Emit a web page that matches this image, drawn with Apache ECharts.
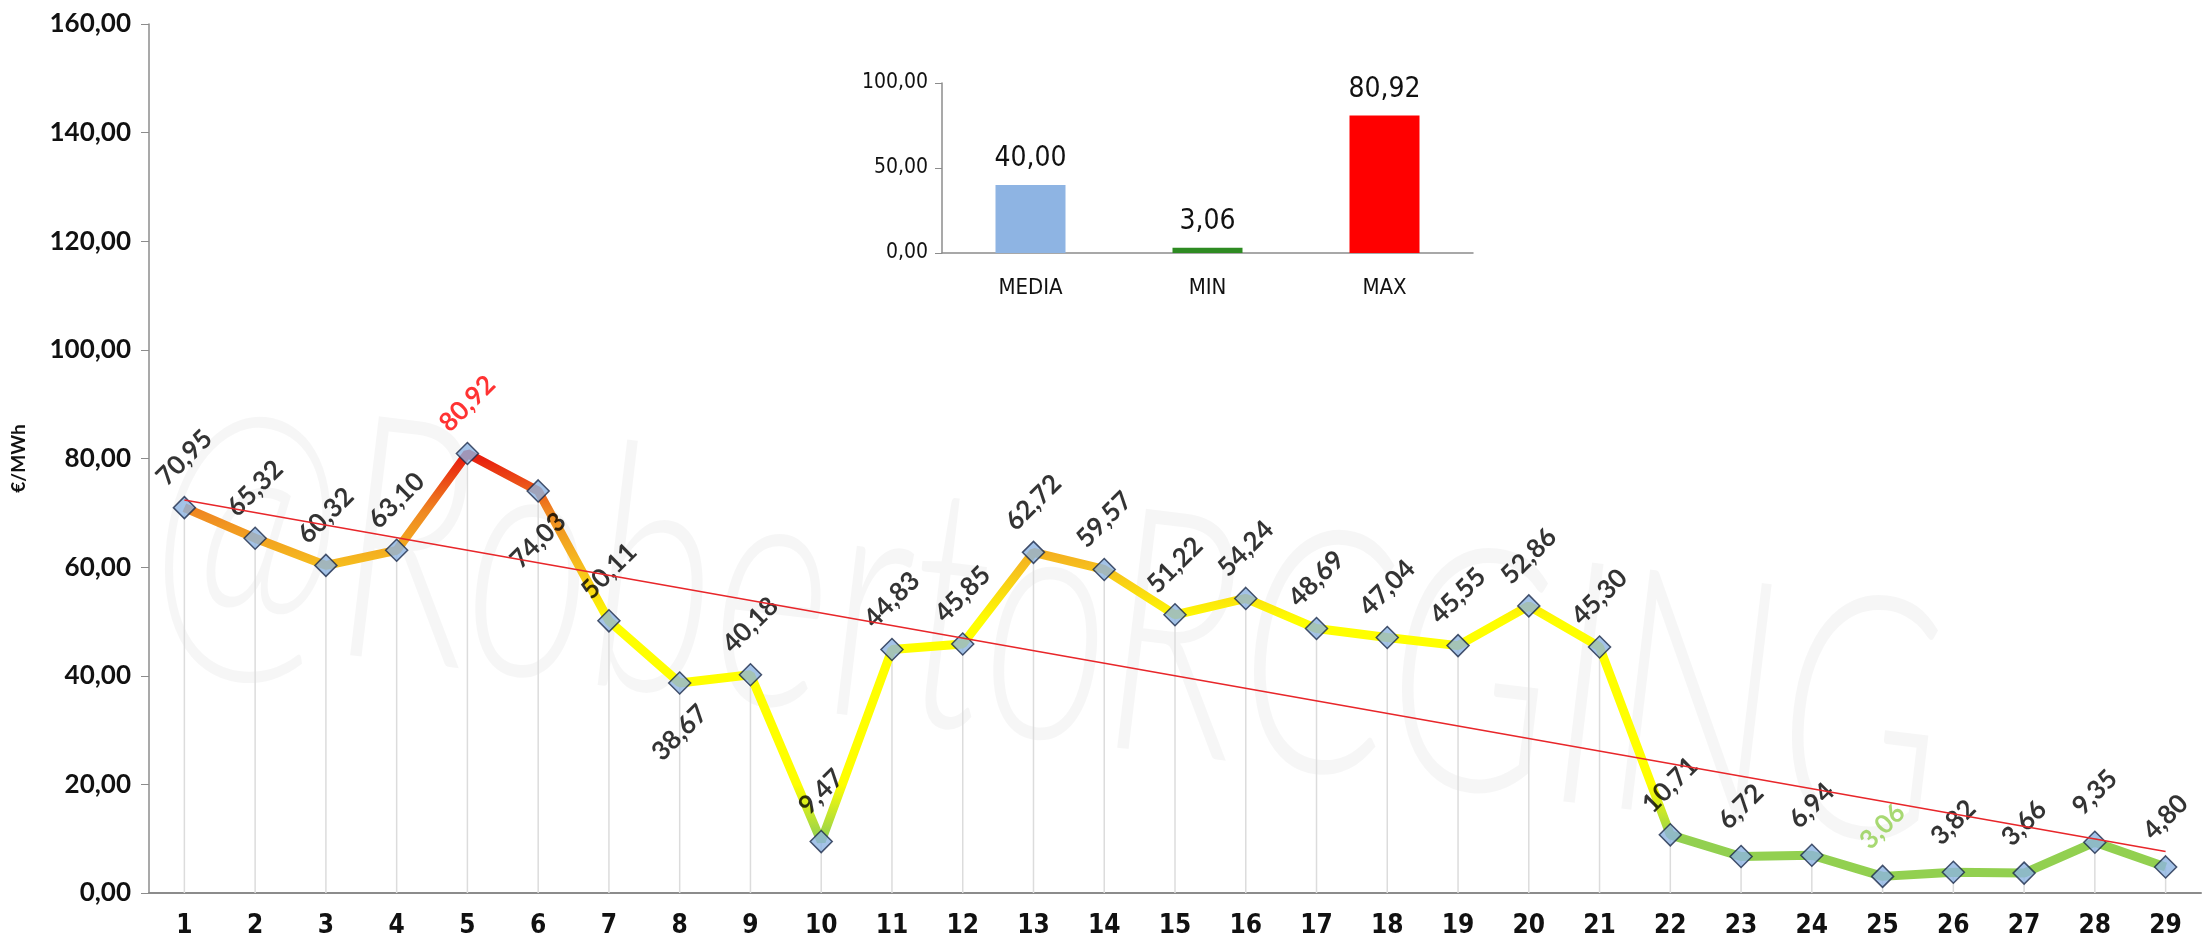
<!DOCTYPE html>
<html>
<head>
    <meta charset="utf-8">
    <script src="https://cdn.jsdelivr.net/npm/echarts@6.0.0/dist/echarts.min.js"></script>
    <style>
        * { margin: 0; padding: 0; box-sizing: border-box; }
        html, body { width: 100%; height: 100%; background: #fff; }
        #chart { width: 2211px; height: 943px; }
    </style>
</head>
<body>
    <div id="chart"></div>

    <script>
        // días del mes
        const days = ['1','2','3','4','5','6','7','8','9','10','11','12','13','14','15',
                      '16','17','18','19','20','21','22','23','24','25','26','27','28','29'];
        // precio medio diario (€/MWh)
        const prices = [70.95, 65.32, 60.32, 63.10, 80.92, 74.03, 50.11, 38.67, 40.18, 9.47,
                        44.83, 45.85, 62.72, 59.57, 51.22, 54.24, 48.69, 47.04, 45.55, 52.86,
                        45.30, 10.71, 6.72, 6.94, 3.06, 3.82, 3.66, 9.35, 4.80];
        // línea de tendencia (valor en el día 1 y en el día 29)
        const trendEnds = [72.35, 7.65];
        // gráfico pequeño
        const statNames = ['MEDIA', 'MIN', 'MAX'];
        const statValues = [40.00, 3.06, 80.92];
        const statColors = ['#8EB4E3', '#2E8B22', '#FF0000'];
        // etiquetas que van debajo del punto
        const belowIdx = [5, 7];

        const narrow = "'DejaVu Sans Condensed', 'Liberation Sans', sans-serif";
        const fmt = v => Number(v).toFixed(2).replace('.', ',');
        const maxV = Math.max(...prices);
        const minV = Math.min(...prices);

        const pointData = prices.map((v, i) => {
            const item = { value: v, label: {} };
            if (belowIdx.includes(i)) item.label.position = 'bottom';
            if (v === maxV) item.label.color = '#FF0000';
            if (v === minV) item.label.color = '#92D050';
            return item;
        });

        const chart = echarts.init(document.getElementById('chart'));

        const option = {
            animation: false,
            backgroundColor: '#fff',
            graphic: [{
                type: 'text',
                x: 135, y: 690,
                rotation: -0.12,
                scaleX: 0.66,
                silent: true,
                z: -10,
                style: {
                    text: '@RobertoRCGING',
                    fontSize: 340,
                    fontFamily: 'Lato',
                    fontWeight: 300,
                    fill: 'rgba(0,0,0,0.035)',
                    verticalAlign: 'bottom'
                }
            }],
            grid: [
                { left: 149, right: 10, top: 24, bottom: 50 },
                { left: 942, right: 738, top: 83, bottom: 690 }
            ],
            visualMap: {
                type: 'continuous',
                show: false,
                seriesIndex: 1,
                dimension: 1,
                min: 0,
                max: 80,
                inRange: {
                    color: ['#92D050', '#92D050', '#FFFF00', '#FFFF00', '#FFFF00',
                            '#FFFF00', '#F6BE1E', '#EF8922', '#E8200E']
                }
            },
            xAxis: [{
                type: 'category',
                gridIndex: 0,
                data: days,
                axisLine: { lineStyle: { color: '#8c8c8c', width: 2 } },
                axisTick: { length: 8, lineStyle: { color: '#8c8c8c', width: 1.5 } },
                axisLabel: {
                    margin: 20,
                    fontFamily: narrow,
                    fontWeight: 'bold',
                    fontSize: 26,
                    color: '#111'
                }
            }, {
                type: 'category',
                gridIndex: 1,
                data: statNames,
                axisLine: { lineStyle: { color: '#8c8c8c', width: 1.5 } },
                axisTick: { length: 8, lineStyle: { color: '#8c8c8c' } },
                axisLabel: {
                    margin: 24,
                    fontFamily: narrow,
                    fontSize: 22,
                    color: '#111'
                }
            }],
            yAxis: [{
                type: 'value',
                gridIndex: 0,
                min: 0,
                max: 160,
                interval: 20,
                name: '€/MWh',
                nameLocation: 'middle',
                nameRotate: 90,
                nameGap: 121,
                nameTextStyle: { fontFamily: 'Lato', fontWeight: 'bold', fontSize: 19, color: '#111' },
                axisLine: { show: true, lineStyle: { color: '#8c8c8c', width: 1.5 } },
                axisTick: { show: true, length: 8, lineStyle: { color: '#8c8c8c' } },
                splitLine: { show: false },
                axisLabel: {
                    margin: 18,
                    fontFamily: 'Lato',
                    fontWeight: 'bold',
                    fontSize: 26,
                    color: '#111',
                    formatter: fmt
                }
            }, {
                type: 'value',
                gridIndex: 1,
                min: 0,
                max: 100,
                interval: 50,
                axisLine: { show: true, lineStyle: { color: '#8c8c8c', width: 1.5 } },
                axisTick: { show: true, length: 7, lineStyle: { color: '#8c8c8c' } },
                splitLine: { show: false },
                axisLabel: {
                    margin: 14,
                    fontFamily: narrow,
                    fontSize: 21,
                    color: '#111',
                    formatter: fmt
                }
            }],
            series: [{
                // líneas verticales desde cada punto
                type: 'bar',
                xAxisIndex: 0,
                yAxisIndex: 0,
                data: prices,
                barWidth: 1.5,
                silent: true,
                itemStyle: { color: '#dcdcdc' },
                z: 1
            }, {
                type: 'line',
                xAxisIndex: 0,
                yAxisIndex: 0,
                data: prices,
                symbol: 'none',
                lineStyle: { width: 9 },
                silent: true,
                z: 2
            }, {
                type: 'scatter',
                xAxisIndex: 0,
                yAxisIndex: 0,
                data: pointData,
                symbol: 'diamond',
                symbolSize: [22, 22],
                itemStyle: { color: '#8DB4E2', borderColor: '#1b2a4a', borderWidth: 1.5 },
                label: {
                    show: true,
                    position: 'top',
                    distance: 38,
                    rotate: 45,
                    align: 'center',
                    verticalAlign: 'middle',
                    fontFamily: 'Lato',
                    fontWeight: 'bold',
                    fontSize: 26,
                    color: '#000',
                    formatter: p => fmt(p.value)
                },
                markLine: {
                    silent: true,
                    symbol: 'none',
                    label: { show: false },
                    lineStyle: { color: '#E8262A', width: 1.5, type: 'solid' },
                    data: [[
                        { coord: [days[0], trendEnds[0]] },
                        { coord: [days[days.length - 1], trendEnds[1]] }
                    ]]
                },
                z: 4
            }, {
                type: 'bar',
                xAxisIndex: 1,
                yAxisIndex: 1,
                data: statValues.map((v, i) => ({ value: v, itemStyle: { color: statColors[i] } })),
                barWidth: 70,
                label: {
                    show: true,
                    position: 'top',
                    distance: 12,
                    fontFamily: narrow,
                    fontSize: 28,
                    color: '#111',
                    formatter: p => fmt(p.value)
                }
            }]
        };

        chart.setOption(option);
        window.addEventListener('resize', () => chart.resize());
    </script>
</body>
</html>
